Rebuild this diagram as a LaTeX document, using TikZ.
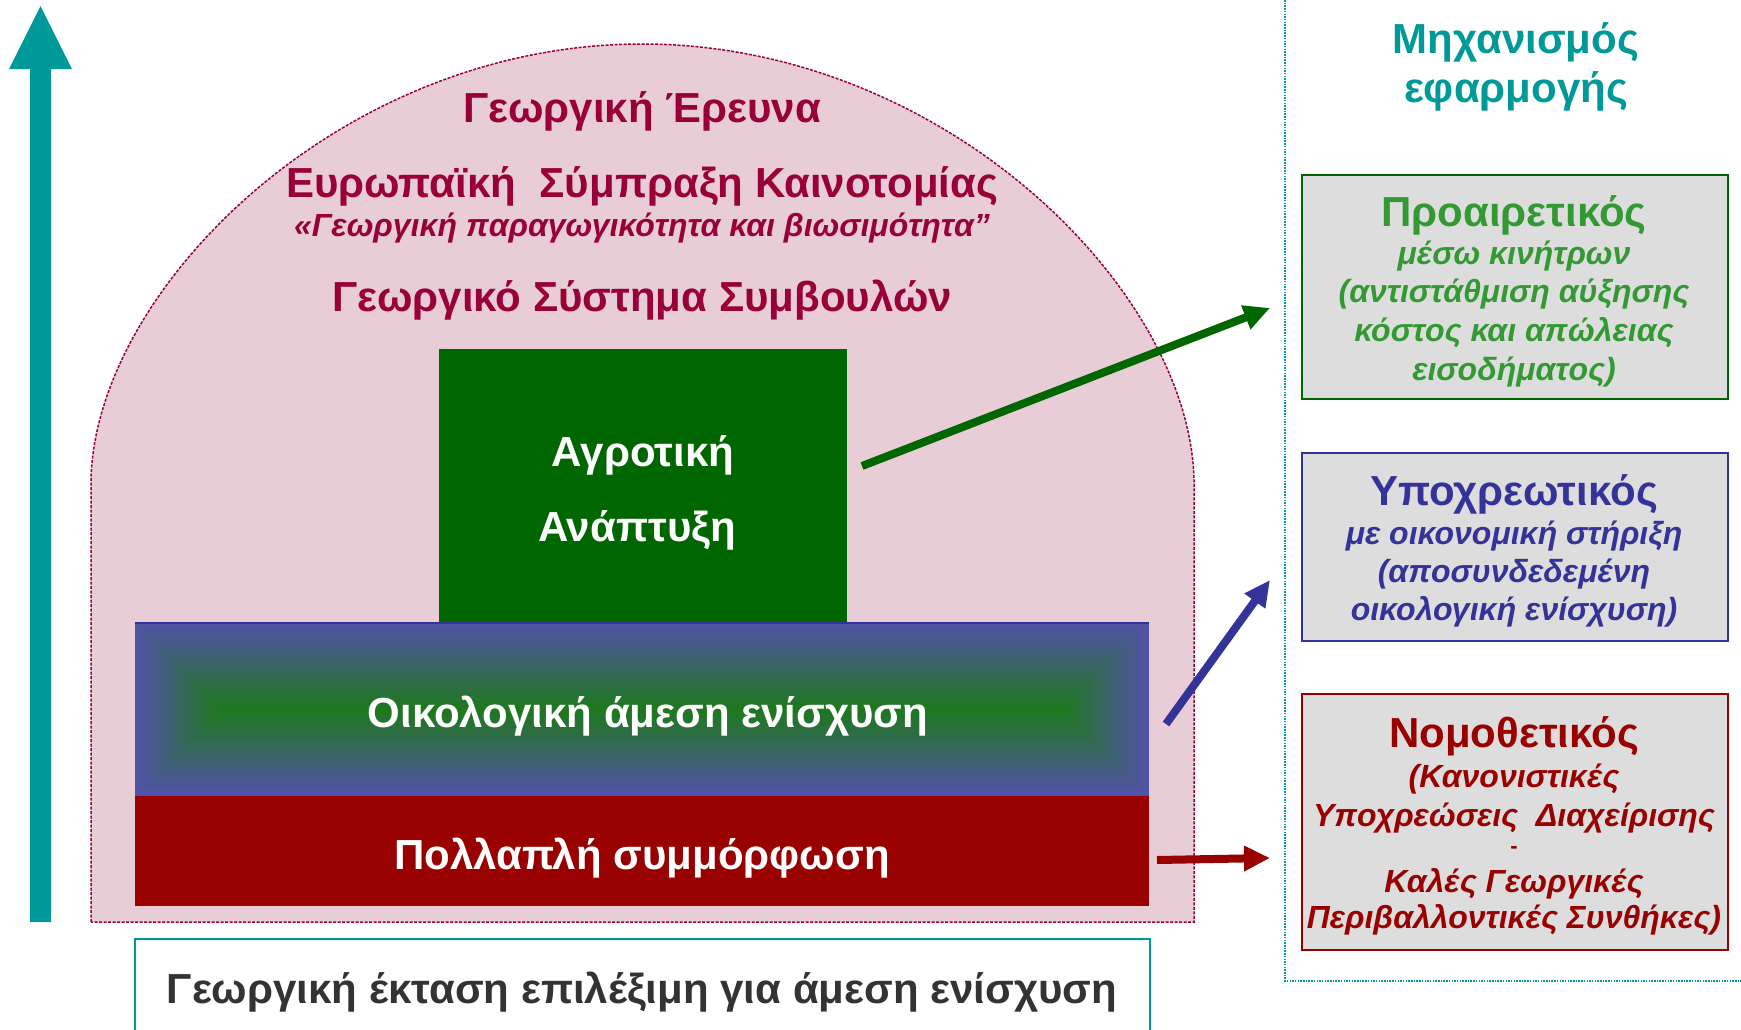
\documentclass[tikz,border=0pt]{standalone}
\usepackage{fontspec}
\setmainfont{Liberation Sans}
\usetikzlibrary{arrows.meta}
\definecolor{tealC}{HTML}{009999}
\definecolor{domefill}{HTML}{E8CCD6}
\definecolor{domeline}{HTML}{990040}
\definecolor{domeTxt}{HTML}{990038}
\definecolor{agroG}{HTML}{006600}
\definecolor{redC}{HTML}{990000}
\definecolor{blueC}{HTML}{333399}
\definecolor{greenT}{HTML}{339933}
\definecolor{boxgray}{HTML}{DDDDDD}
\definecolor{gradEdge}{HTML}{5252A6}
\definecolor{gradMid}{HTML}{1E781E}
\definecolor{darkTxt}{HTML}{333333}
\tikzset{
  txt/.style={inner sep=0pt, anchor=base},
  bigB/.style={txt, font=\fontsize{42}{50}\selectfont\bfseries},
  headB/.style={txt, font=\fontsize{42}{50}\selectfont\bfseries},
  subI/.style={txt, font=\fontsize{32}{38}\selectfont\bfseries\itshape},
  solidbox/.style={inner sep=0pt, anchor=north west, draw=none},
  rbox/.style={inner sep=0pt, anchor=north west, fill=boxgray, line width=2pt},
  conn/.style={line width=8pt},
}
\begin{document}
\begin{tikzpicture}[x=1pt,y=-1pt]
\useasboundingbox (0,0) rectangle (1741,1029);
% vertical teal arrow
\fill[tealC] (30,922) -- (30,69) -- (9,69) -- (40.5,6) -- (72,69) -- (51,69) -- (51,922) -- cycle;
% dome
\draw[fill=domefill, draw=domeline, line width=1.5pt, dash pattern=on 3pt off 1.5pt]
  (91,922) -- (91,480) .. controls (95,290) and (340,44) .. (642,44)
  .. controls (944,44) and (1190,290) .. (1194,480) -- (1194,922) -- cycle;
% dome texts
\node[bigB, text=domeTxt] (research) at (642,122) {Γεωργική Έρευνα};
\node[bigB, text=domeTxt] (eip) at (642,197) {Ευρωπαϊκή\ \ Σύμπραξη Καινοτομίας};
\node[subI, text=domeTxt] (eipsub) at (642,236) {«Γεωργική παραγωγικότητα και βιωσιμότητα"};
\node[bigB, text=domeTxt] (fas) at (642,311) {Γεωργικό Σύστημα Συμβουλών};
% rural development block
\node[solidbox, fill=agroG, minimum width=408, minimum height=273] (agro) at (439,349) {};
\node[bigB, text=white] (agroA) at (643,466) {Αγροτική};
\node[bigB, text=white] (agroB) at (637,541) {Ανάπτυξη};
% greening block with box gradient
\node[solidbox, minimum width=1014, minimum height=174] (green) at (135,622) {};
\foreach \i in {0,...,43}{
  \pgfmathsetmacro\d{\i*87/44}
  \pgfmathtruncatemacro\p{100*\i/43}
  \fill[gradMid!\p!gradEdge] (135+\d,622+\d) rectangle (1149-\d,796-\d);
}
\draw[blueC, line width=1.5pt] (135,622.75) -- (1149,622.75);
\node[bigB, text=white] (greenT) at (648,727) {Οικολογική άμεση ενίσχυση};
% cross compliance block
\node[solidbox, fill=redC, minimum width=1014, minimum height=110] (cc) at (135,796) {};
\node[bigB, text=white] (ccT) at (642,869) {Πολλαπλή συμμόρφωση};
% eligible land box
\node[txt, font=\fontsize{42}{50}\selectfont\bfseries, text=darkTxt] (land) at (642,1003) {Γεωργική έκταση επιλέξιμη για άμεση ενίσχυση};
\draw[tealC, line width=2pt] (135,1032) |- (1150,939) -- (1150,1032);
% dotted separator
\coordinate (sepTop) at (1285,0);
\coordinate (sepCorner) at (1285,981);
\coordinate (sepEnd) at (1741,981);
\draw[tealC, line width=1.5pt, dash pattern=on 1.5pt off 1.2pt] (sepTop) -- (sepCorner) -- (sepEnd);
% title
\node[bigB, text=tealC] (mechA) at (1516,53) {Μηχανισμός};
\node[bigB, text=tealC] (mechB) at (1516,102) {εφαρμογής};
% voluntary box
\node[rbox, draw=agroG, minimum width=426, minimum height=224] (vol) at (1301,174) {};
\node[headB, text=greenT] (volH) at (1514,226) {Προαιρετικός};
\node[subI, text=greenT] (volA) at (1514,264) {μέσω κινήτρων};
\node[subI, text=greenT] (volB) at (1514,302) {(αντιστάθμιση αύξησης};
\node[subI, text=greenT] (volC) at (1514,341) {κόστος και απώλειας};
\node[subI, text=greenT] (volD) at (1514,380) {εισοδήματος)};
% mandatory box
\node[rbox, draw=blueC, minimum width=426, minimum height=188] (man) at (1301,452) {};
\node[headB, text=blueC] (manH) at (1514,505) {Υποχρεωτικός};
\node[subI, text=blueC] (manA) at (1514,544) {με οικονομική στήριξη};
\node[subI, text=blueC] (manB) at (1514,582) {(αποσυνδεδεμένη};
\node[subI, text=blueC] (manC) at (1514,620) {οικολογική ενίσχυση)};
% legislative box
\node[rbox, draw=redC, minimum width=426, minimum height=256] (leg) at (1301,693) {};
\node[headB, text=redC] (legH) at (1514,747) {Νομοθετικός};
\node[subI, text=redC] (legA) at (1514,787) {(Κανονιστικές};
\node[subI, text=redC] (legB) at (1514,826) {Υποχρεώσεις\ \ Διαχείρισης};
\node[txt, font=\fontsize{22}{26}\selectfont\bfseries, text=redC] (legC) at (1514,853) {-};
\node[subI, text=redC] (legD) at (1514,892) {Καλές Γεωργικές};
\node[subI, text=redC] (legE) at (1514,928) {Περιβαλλοντικές Συνθήκες)};
% connectors
\coordinate (gS) at (862,466);
\coordinate (gE) at (1270,308);
\coordinate (bS) at (1166,724);
\coordinate (bE) at (1270,580);
\coordinate (rS) at (1157,860);
\coordinate (rE) at (1270,858);
\draw[conn, agroG, -{Triangle[length=26pt,width=24pt]}] (gS) -- (gE);
\draw[conn, blueC, -{Triangle[length=26pt,width=24pt]}] (bS) -- (bE);
\draw[conn, redC, -{Triangle[length=26pt,width=24pt]}] (rS) -- (rE);
\end{tikzpicture}
\end{document}
